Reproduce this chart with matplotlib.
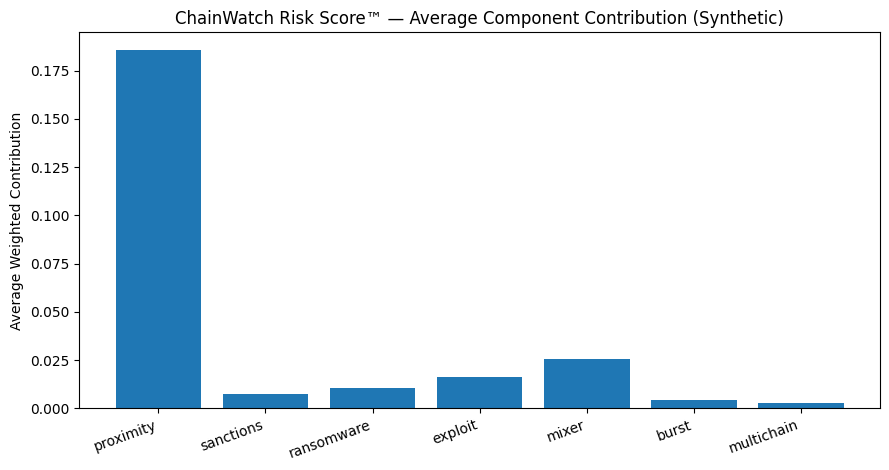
import matplotlib.pyplot as plt

# componentes del score y su contribucion media
components = ['proximity', 'sanctions', 'ransomware', 'exploit', 'mixer', 'burst', 'multichain']
avg_contribution = [0.1855, 0.0073, 0.0104, 0.0164, 0.0258, 0.0042, 0.0026]

fig, ax = plt.subplots(figsize=(8.89, 4.70), dpi=100)
ax.bar(components, avg_contribution, color='#1f77b4')
ax.set_title('ChainWatch Risk Score\u2122 \u2014 Average Component Contribution (Synthetic)')
ax.set_ylabel('Average Weighted Contribution')
plt.setp(ax.get_xticklabels(), rotation=20, ha='right')
# margenes ajustados a mano para cuadrar con la referencia
fig.subplots_adjust(left=0.089, right=0.99, top=0.931, bottom=0.131)
fig.savefig('out.png', dpi=100)
